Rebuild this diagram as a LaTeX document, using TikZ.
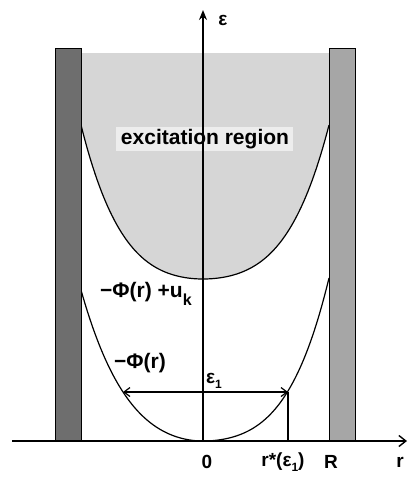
\documentclass[tikz,border=0pt]{standalone}
\usepackage{fontspec}
\setmainfont{Liberation Sans}
\usetikzlibrary{arrows.meta}
\begin{document}
\begin{tikzpicture}[x=1pt,y=-1pt,
  curve/.style={line width=1.2pt},
  axis/.style={line width=1.4pt},
  wallL/.style={draw=black, line width=0.8pt, fill=black!57},
  wallR/.style={draw=black, line width=0.8pt, fill=black!35},
  lbl/.style={inner sep=0pt, font=\bfseries\fontsize{21}{25}\selectfont},
  dblarrow/.style={{Straight Barb[length=6pt,width=9pt,line width=1.2pt]}-{Straight Barb[length=6pt,width=9pt,line width=1.2pt]}},
]
\useasboundingbox (0,0) rectangle (408,480);
\coordinate (O) at (203,441);
\coordinate (xl) at (12,441);
\coordinate (xr) at (407,441);
\coordinate (yt) at (203,10);
\coordinate (pL) at (123,392);
\coordinate (pR) at (288,392);
\coordinate (pA) at (288,441);
% shaded excitation region
\fill[black!16] (81,53) -- (81,125)
  -- plot[domain=-122:0,samples=61] ({203+\x},{279-42.79*(\x/100)*(\x/100)-40.77*(\x/100)*(\x/100)*(\x/100)*(\x/100)})
  -- plot[domain=0:126,samples=61] ({203+\x},{279-42.79*(\x/103.3)*(\x/103.3)-40.77*(\x/103.3)*(\x/103.3)*(\x/103.3)*(\x/103.3)})
  -- (329,53) -- cycle;
\fill[black!7] (116,127) rectangle (293,151);
\node[lbl] (exc) at (205,139) {excitation region};
% upper curve
\draw[curve] plot[domain=-122:0,samples=61] ({203+\x},{279-42.79*(\x/100)*(\x/100)-40.77*(\x/100)*(\x/100)*(\x/100)*(\x/100)})
  -- plot[domain=0:126,samples=61] ({203+\x},{279-42.79*(\x/103.3)*(\x/103.3)-40.77*(\x/103.3)*(\x/103.3)*(\x/103.3)*(\x/103.3)});
% lower curve
\draw[curve] plot[domain=-122:0,samples=61] ({203+\x},{441-57.78*(\x/100)*(\x/100)-29.34*(\x/100)*(\x/100)*(\x/100)*(\x/100)})
  -- plot[domain=0:126,samples=61] ({203+\x},{441-41.26*(\x/100)*(\x/100)-38.68*(\x/100)*(\x/100)*(\x/100)*(\x/100)});
% walls
\draw[wallL] (55,48) rectangle (81,441);
\draw[wallR] (329,48) rectangle (355,441);
% axes
\draw[axis,-{Straight Barb[length=7pt,width=11pt,line width=1.4pt]}] (xl) -- (xr);
\draw[axis,-{Stealth[length=10pt,width=8pt]}] (O) -- (yt);
% eps1 arrow
\draw[curve,dblarrow] (pL) -- (pR);
\draw[line width=1.1pt] (pR) -- (pA);
% labels
\node[lbl, font=\bfseries\fontsize{19}{23}\selectfont] (eps) at (223,20) {ε};
\node[lbl, anchor=west] (phiu) at (100,294) {−Φ(r) +u\raisebox{-0.35em}{\fontsize{16}{16}\selectfont k}};
\node[lbl, anchor=west] (phi) at (114,363) {−Φ(r)};
\node[lbl, anchor=west, font=\bfseries\fontsize{19}{23}\selectfont] (e1) at (206,381) {ε\raisebox{-0.3em}{\fontsize{12}{12}\selectfont 1}};
\node[lbl, font=\bfseries\fontsize{19}{23}\selectfont] (l0) at (207,462) {0};
\node[lbl, font=\bfseries\fontsize{19}{23}\selectfont] (lrs) at (283,462) {r*(ε\raisebox{-0.3em}{\fontsize{12}{12}\selectfont 1})};
\node[lbl, font=\bfseries\fontsize{19}{23}\selectfont] (lR) at (331,462) {R};
\node[lbl, font=\bfseries\fontsize{19}{23}\selectfont] (lr) at (400,462) {r};
\end{tikzpicture}
\end{document}
